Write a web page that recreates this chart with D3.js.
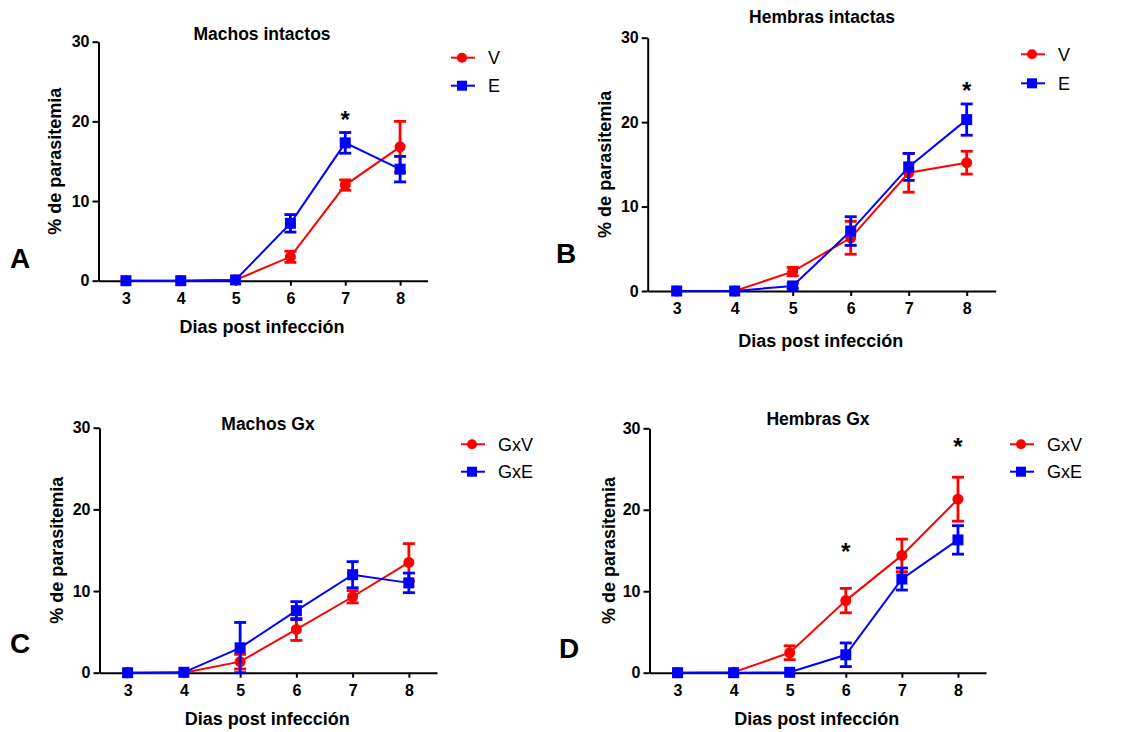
<!DOCTYPE html>
<html>
<head>
<meta charset="utf-8">
<script src="https://cdn.jsdelivr.net/npm/d3@7"></script>
<style>
  body { margin: 0; background: #fff; }
  svg { display: block; font-family: "Liberation Sans", Arial, sans-serif; }
  .title { font-weight: bold; font-size: 17.5px; }
  .axlabel { font-weight: bold; font-size: 18px; }
  .legend { font-size: 18px; }
  .letter { font-weight: bold; font-size: 28px; }
  .star { font-weight: bold; font-size: 24px; }
</style>
</head>
<body>
<div id="chart"></div>
<script>
/* Four panels: % parasitemia vs days post infection, mean with error bars. */

var days = [3, 4, 5, 6, 7, 8];
var yTicks = [0, 10, 20, 30];

var titles = ["Machos intactos", "Hembras intactas", "Machos Gx", "Hembras Gx"];
var letters = ["A", "B", "C", "D"];
var seriesNames = [["V", "E"], ["V", "E"], ["GxV", "GxE"], ["GxV", "GxE"]];

var aV = [0, 0, 0.1, 3.0, 12.0, 16.8];
var aVerr = [0, 0, 0, 0.7, 0.65, 3.2];
var aE = [0, 0, 0.1, 7.2, 17.3, 14.0];
var aEerr = [0, 0, 0, 1.1, 1.3, 1.6];

var bV = [0, 0, 2.3, 6.3, 14.0, 15.2];
var bVerr = [0, 0, 0.5, 1.95, 2.3, 1.35];
var bE = [0, 0, 0.6, 7.1, 14.7, 20.3];
var bEerr = [0, 0, 0.3, 1.7, 1.6, 1.85];

var cV = [0, 0, 1.35, 5.3, 9.3, 13.5];
var cVerr = [0, 0, 0.9, 1.35, 0.75, 2.3];
var cE = [0, 0.05, 3.05, 7.6, 12.0, 11.0];
var cEerr = [0, 0, 3.1, 1.1, 1.6, 1.2];

var dV = [0, 0.05, 2.45, 8.85, 14.4, 21.3];
var dVerr = [0, 0, 0.85, 1.5, 2.0, 2.7];
var dE = [0, 0, 0.05, 2.2, 11.5, 16.3];
var dEerr = [0, 0, 0, 1.45, 1.35, 1.75];

/* significance stars: [day, y value] */
var starsA = [[7, 20.9]];
var starsB = [[8, 24.4]];
var starsC = [];
var starsD = [[6, 15.5], [8, 28.4]];

var panelData = [
  { v: aV, ve: aVerr, e: aE, ee: aEerr, stars: starsA },
  { v: bV, ve: bVerr, e: bE, ee: bEerr, stars: starsB },
  { v: cV, ve: cVerr, e: cE, ee: cEerr, stars: starsC },
  { v: dV, ve: dVerr, e: dE, ee: dEerr, stars: starsD }
];

/* layout of each panel, measured in page pixels */
var layout = [
  { x0: 98.5, x1: 427.5, y0: 280.7, y1: 41.7, titleX: 262, titleY: 40, xlabY: 333, ylabX: 61,
    legX: 451, legY: [57.7, 85.7], letX: 10, letY: 268 },
  { x0: 647.7, x1: 995.7, y0: 291, y1: 37.7, titleX: 822, titleY: 23.3, xlabY: 346.7, ylabX: 610.7,
    legX: 1021, legY: [54.3, 83.3], letX: 556, letY: 263 },
  { x0: 99.5, x1: 437, y0: 672.7, y1: 427.7, titleX: 268, titleY: 430, xlabY: 725, ylabX: 63,
    legX: 461, legY: [444.3, 471.7], letX: 10, letY: 653 },
  { x0: 649.5, x1: 986, y0: 672.7, y1: 428.3, titleX: 818, titleY: 425, xlabY: 725, ylabX: 615,
    legX: 1010, legY: [444.3, 471.7], letX: 559, letY: 658 }
];

var RED = "#ff0000", BLUE = "#0000ff";

var svg = d3.select("#chart").append("svg").attr("width", 1122).attr("height", 732);

function drawSeries(g, x, y, vals, errs, color, shape) {
  var pts = days.map(function (d, i) { return { d: d, v: vals[i], e: errs[i] }; });
  g.append("path").datum(pts)
    .attr("fill", "none").attr("stroke", color).attr("stroke-width", 2)
    .attr("d", d3.line().x(function (p) { return x(p.d); }).y(function (p) { return y(p.v); }));
  pts.filter(function (p) { return p.e > 0; }).forEach(function (p) {
    var cx = x(p.d), top = y(p.v + p.e), bot = y(Math.max(0, p.v - p.e));
    var eb = g.append("g").attr("stroke", color).attr("stroke-width", 2.8);
    eb.append("line").attr("x1", cx).attr("x2", cx).attr("y1", top).attr("y2", bot);
    eb.append("line").attr("x1", cx - 6).attr("x2", cx + 6).attr("y1", top).attr("y2", top);
    eb.append("line").attr("x1", cx - 6).attr("x2", cx + 6).attr("y1", bot).attr("y2", bot);
  });
  pts.forEach(function (p) {
    if (shape === "circle") {
      g.append("circle").attr("cx", x(p.d)).attr("cy", y(p.v)).attr("r", 5.5).attr("fill", color);
    } else {
      g.append("rect").attr("x", x(p.d) - 5.5).attr("y", y(p.v) - 5.5)
        .attr("width", 11).attr("height", 11).attr("fill", color);
    }
  });
}

layout.forEach(function (L, k) {
  var data = panelData[k];
  var x = d3.scaleLinear().domain([2.5, 8.5]).range([L.x0, L.x1]);
  var y = d3.scaleLinear().domain([0, 30]).range([L.y0, L.y1]);
  var g = svg.append("g");

  var ax = g.append("g").attr("transform", "translate(0," + L.y0 + ")")
    .call(d3.axisBottom(x).tickValues(days).tickFormat(d3.format("d"))
      .tickSize(5).tickSizeOuter(0).tickPadding(7));
  var ay = g.append("g").attr("transform", "translate(" + L.x0 + ",0)")
    .call(d3.axisLeft(y).tickValues(yTicks).tickFormat(d3.format("d"))
      .tickSize(6).tickSizeOuter(0).tickPadding(3));
  [ax, ay].forEach(function (a) {
    a.select(".domain").attr("stroke", "#000").attr("stroke-width", 2);
    a.selectAll(".tick line").attr("stroke", "#000").attr("stroke-width", 2);
    a.selectAll(".tick text").attr("fill", "#000")
      .style("font-family", "'Liberation Sans', Arial, sans-serif")
      .style("font-size", "16px").style("font-weight", "bold");
  });

  g.append("text").attr("class", "title").attr("x", L.titleX).attr("y", L.titleY)
    .attr("text-anchor", "middle").text(titles[k]);
  g.append("text").attr("class", "axlabel").attr("x", (L.x0 + L.x1) / 2 - 1).attr("y", L.xlabY)
    .attr("text-anchor", "middle").text("Dias post infección");
  g.append("text").attr("class", "axlabel").attr("text-anchor", "middle")
    .attr("transform", "translate(" + L.ylabX + "," + ((L.y0 + L.y1) / 2) + ") rotate(-90)")
    .text("% de parasitemia");
  g.append("text").attr("class", "letter").attr("x", L.letX).attr("y", L.letY).text(letters[k]);

  drawSeries(g, x, y, data.v, data.ve, RED, "circle");
  drawSeries(g, x, y, data.e, data.ee, BLUE, "square");

  data.stars.forEach(function (s) {
    g.append("text").attr("class", "star").attr("text-anchor", "middle")
      .attr("x", x(s[0])).attr("y", y(s[1]) + 14).text("*");
  });

  /* Legend */
  [RED, BLUE].forEach(function (col, i) {
    var ly = L.legY[i];
    var lg = g.append("g");
    lg.append("line").attr("x1", L.legX).attr("x2", L.legX + 24).attr("y1", ly).attr("y2", ly)
      .attr("stroke", col).attr("stroke-width", 2);
    if (i === 0) {
      lg.append("circle").attr("cx", L.legX + 11).attr("cy", ly).attr("r", 5).attr("fill", col);
    } else {
      lg.append("rect").attr("x", L.legX + 6).attr("y", ly - 5).attr("width", 10).attr("height", 10).attr("fill", col);
    }
    lg.append("text").attr("class", "legend").attr("x", L.legX + 37).attr("y", ly + 6.5)
      .text(seriesNames[k][i]);
  });
});
</script>
</body>
</html>
